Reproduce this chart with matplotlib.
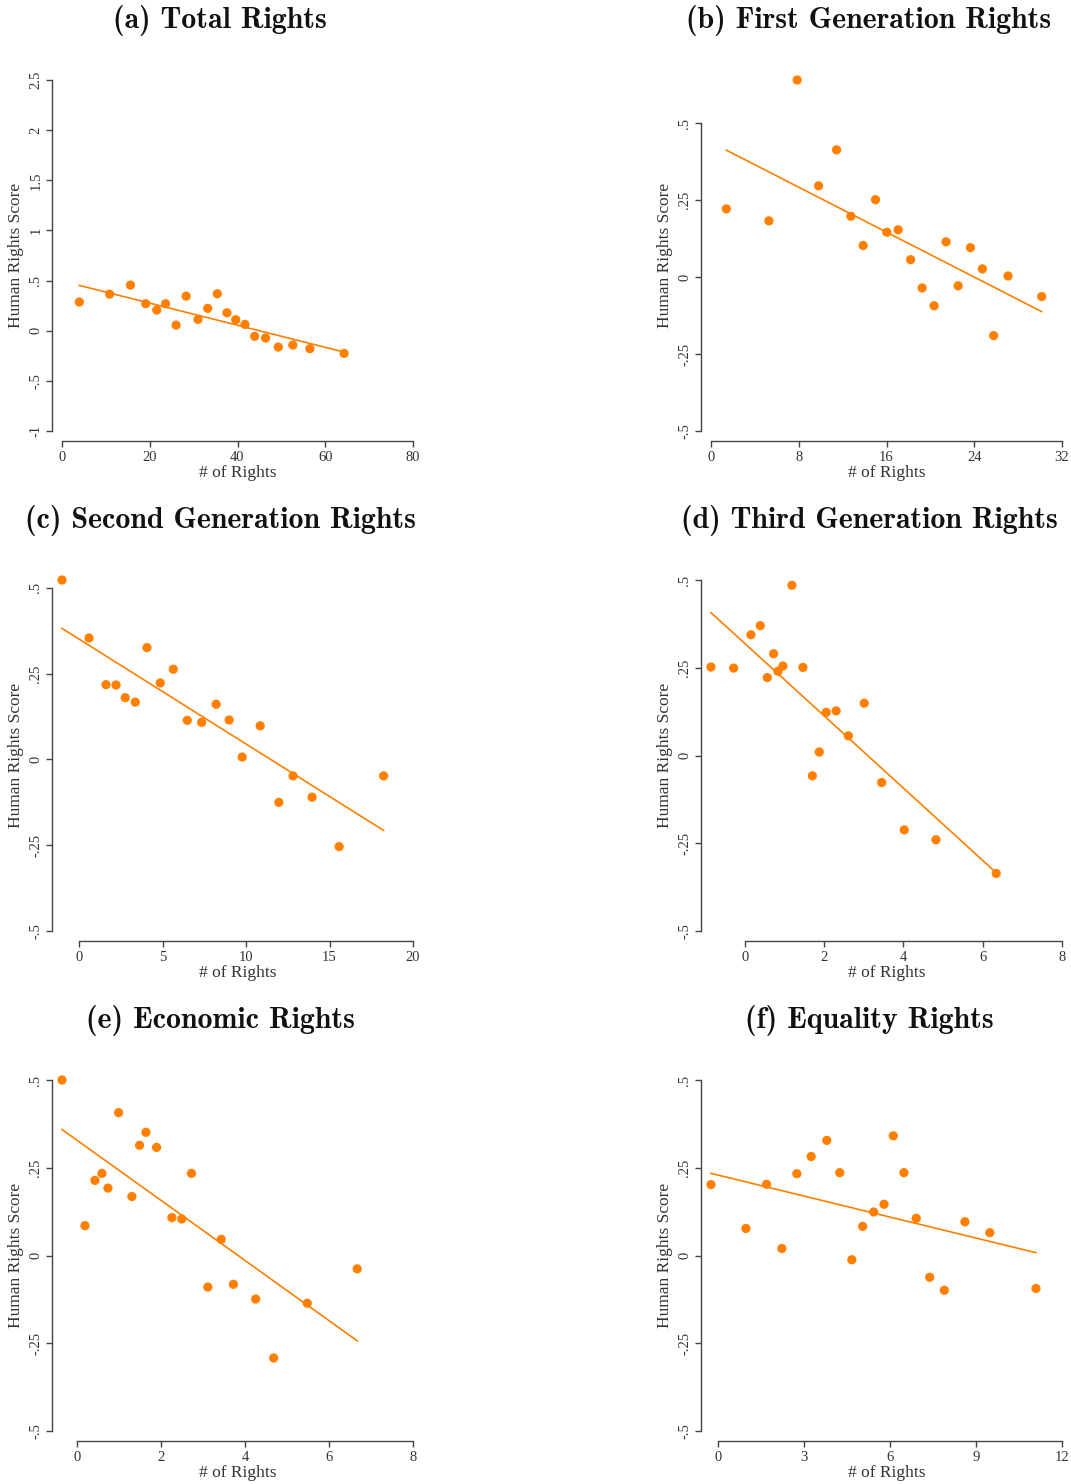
import matplotlib
matplotlib.use("Agg")
import matplotlib.pyplot as plt
import numpy as np

# binned means: number of rights vs human rights score
total_x = [3.95, 10.85, 15.6, 19.1, 21.6, 23.6, 26.0, 28.3, 31.0, 33.2,
           35.4, 37.6, 39.6, 41.7, 43.9, 46.4, 49.3, 52.6, 56.5, 64.3]
total_y = [0.286, 0.365, 0.455, 0.269, 0.206, 0.269, 0.056, 0.345, 0.113, 0.223,
           0.369, 0.179, 0.110, 0.063, -0.056, -0.073, -0.163, -0.143, -0.179, -0.226]
total_fit = [0.452, -0.213]

first_x = [1.40, 5.28, 7.86, 9.81, 11.45, 12.75, 13.87, 15.0, 16.03, 17.06,
           18.2, 19.25, 20.34, 21.43, 22.53, 23.65, 24.74, 25.77, 27.08, 30.15]
first_y = [0.222, 0.183, 0.641, 0.297, 0.414, 0.198, 0.103, 0.252, 0.146, 0.154,
           0.057, -0.035, -0.093, 0.115, -0.028, 0.096, 0.027, -0.190, 0.004, -0.063]
first_fit = [0.413, -0.112]

second_x = [-1.04, 0.58, 1.60, 2.20, 2.75, 3.35, 4.05, 4.85, 5.63, 6.47,
            7.33, 8.20, 8.98, 9.76, 10.84, 11.96, 12.81, 13.95, 15.57, 18.24]
second_y = [0.523, 0.354, 0.218, 0.217, 0.180, 0.167, 0.326, 0.223, 0.263, 0.114,
            0.108, 0.161, 0.115, 0.007, 0.098, -0.125, -0.048, -0.110, -0.254, -0.048]
second_fit = [0.382, -0.207]

third_x = [-0.857, -0.286, 0.151, 0.387, 0.563, 0.723, 0.832, 0.958, 1.185, 1.462,
           1.70, 1.874, 2.05, 2.30, 2.61, 3.01, 3.45, 4.02, 4.82, 6.34]
third_y = [0.252, 0.249, 0.344, 0.370, 0.222, 0.290, 0.240, 0.255, 0.485, 0.251,
           -0.058, 0.010, 0.123, 0.127, 0.056, 0.149, -0.077, -0.212, -0.240, -0.336]
third_fit = [0.407, -0.334]

econ_x = [-0.365, 0.183, 0.421, 0.587, 0.730, 0.984, 1.30, 1.484, 1.635, 1.889,
          2.254, 2.49, 2.72, 3.11, 3.43, 3.72, 4.25, 4.68, 5.48, 6.67]
econ_y = [0.500, 0.085, 0.214, 0.234, 0.192, 0.407, 0.168, 0.314, 0.351, 0.308,
          0.108, 0.104, 0.234, -0.090, 0.046, -0.082, -0.124, -0.292, -0.136, -0.038]
econ_fit = [0.359, -0.243]

equal_x = [-0.256, 0.964, 1.684, 2.219, 2.742, 3.241, 3.787, 4.24, 4.66, 5.04,
           5.425, 5.785, 6.11, 6.48, 6.91, 7.38, 7.89, 8.61, 9.48, 11.09]
equal_y = [0.202, 0.077, 0.203, 0.020, 0.233, 0.282, 0.328, 0.236, -0.012, 0.083,
           0.124, 0.146, 0.341, 0.236, 0.106, -0.062, -0.099, 0.096, 0.065, -0.094]
equal_fit = [0.234, 0.008]

titles = ["(a) Total Rights", "(b) First Generation Rights",
          "(c) Second Generation Rights", "(d) Third Generation Rights",
          "(e) Economic Rights", "(f) Equality Rights"]

half_ticks = [-0.5, -0.25, 0, 0.25, 0.5]
half_labels = ["-.5", "-.25", "0", ".25", ".5"]
total_ticks = [-1, -0.5, 0, 0.5, 1, 1.5, 2, 2.5]
total_labels = ["-1", "-.5", "0", ".5", "1", "1.5", "2", "2.5"]

panels = [
    (total_x, total_y, total_fit, [0, 20, 40, 60, 80], total_ticks, total_labels),
    (first_x, first_y, first_fit, [0, 8, 16, 24, 32], half_ticks, half_labels),
    (second_x, second_y, second_fit, [0, 5, 10, 15, 20], half_ticks, half_labels),
    (third_x, third_y, third_fit, [0, 2, 4, 6, 8], half_ticks, half_labels),
    (econ_x, econ_y, econ_fit, [0, 2, 4, 6, 8], half_ticks, half_labels),
    (equal_x, equal_y, equal_fit, [0, 3, 6, 9, 12], half_ticks, half_labels),
]

W, H = 1071, 1484
ORANGE = "#ff7f00"
AXC = "#454545"
TXT = "#333333"
serif = ["Liberation Serif", "DejaVu Serif"]

fig = plt.figure(figsize=(W / 100, H / 100), dpi=100)

col_left = [62, 711]
row_top = [80, 580, 1080]
box = 351
title_x = [220, 869]

for i, (x, y, fit, xt, yt, ylabs) in enumerate(panels):
    r, c = divmod(i, 2)
    ax = fig.add_axes([col_left[c] / W, 1 - (row_top[r] + box) / H, box / W, box / H])
    x = np.array(x)
    y = np.array(y)

    ax.scatter(x, y, s=44, color=ORANGE, edgecolors="none", zorder=3, clip_on=False)
    ax.plot([x.min(), x.max()], fit, color=ORANGE, lw=1.2, zorder=2, clip_on=False)

    ax.set_xlim(min(x.min(), xt[0]), max(x.max(), xt[-1]))
    ax.set_ylim(min(y.min(), yt[0]), max(y.max(), yt[-1]))

    for s in ["top", "right"]:
        ax.spines[s].set_visible(False)
    for s in ["left", "bottom"]:
        ax.spines[s].set_position(("outward", 7.2))
        ax.spines[s].set_color(AXC)
        ax.spines[s].set_linewidth(1.0)
    ax.spines["bottom"].set_bounds(xt[0], xt[-1])
    ax.spines["left"].set_bounds(yt[0], yt[-1])

    ax.set_xticks(xt)
    ax.set_xticklabels([str(v) for v in xt], fontfamily=serif, fontsize=10.5, color=TXT)
    ax.set_yticks(yt)
    ax.set_yticklabels(ylabs, rotation=90, va="center", fontfamily=serif,
                       fontsize=10.5, color=TXT)
    ax.tick_params(direction="out", length=4, width=1.0, color=AXC, pad=3)

    ax.set_xlabel("# of Rights", fontfamily=serif, fontsize=12.5, color=TXT, labelpad=1)
    ax.set_ylabel("Human Rights Score", fontfamily=serif, fontsize=12.5, color=TXT, labelpad=4)
    ax.patch.set_alpha(0)

    fig.text(title_x[c] / W, 1 - (row_top[r] - 59) / H, titles[i],
             fontfamily="cmb10", fontsize=21.5, ha="center", va="center", color="#111111")

fig.savefig("out.png", dpi=100, facecolor="white")
